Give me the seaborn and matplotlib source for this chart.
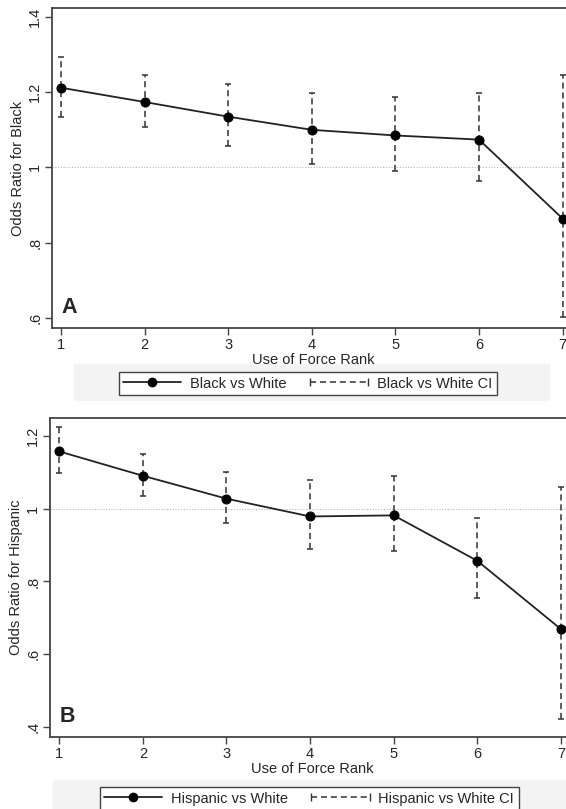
import pandas as pd
import matplotlib.pyplot as plt
import seaborn as sns
from matplotlib.lines import Line2D
from matplotlib.patches import Rectangle
from matplotlib.legend_handler import HandlerLine2D

rank = [1, 2, 3, 4, 5, 6, 7]

black_or = [1.212, 1.174, 1.135, 1.100, 1.085, 1.074, 0.864]
black_lo = [1.135, 1.108, 1.056, 1.009, 0.991, 0.963, 0.601]
black_hi = [1.295, 1.246, 1.223, 1.199, 1.187, 1.199, 1.245]

hisp_or = [1.158, 1.091, 1.028, 0.979, 0.982, 0.857, 0.669]
hisp_lo = [1.098, 1.034, 0.961, 0.890, 0.884, 0.755, 0.421]
hisp_hi = [1.225, 1.151, 1.101, 1.078, 1.091, 0.976, 1.061]

black_ticks = [0.6, 0.8, 1.0, 1.2, 1.4]
black_ticklabels = ['.6', '.8', '1', '1.2', '1.4']
hisp_ticks = [0.4, 0.6, 0.8, 1.0, 1.2]
hisp_ticklabels = ['.4', '.6', '.8', '1', '1.2']

sns.set_style("ticks")
plt.rcParams['font.family'] = ['Liberation Sans', 'DejaVu Sans']

W, H = 566, 809
fig = plt.figure(figsize=(W / 100, H / 100), dpi=100)

LINE_C = '#222222'
ERR_C = '#333333'
SPINE_C = '#444444'
FS = 10.5
DASH = (0, (4, 2.5))


def panel(rect, est, lo, hi, ylim, xlim, ticks, ticklabels, ylabel, letter):
    ax = fig.add_axes(rect)
    df = pd.DataFrame({'rank': rank, 'or': est, 'lo': lo, 'hi': hi})
    ax.axhline(1, color='#b8b8b8', lw=0.8, ls=(0, (1, 1.5)), zorder=1)
    err = ax.errorbar(df['rank'], df['or'],
                      yerr=[df['or'] - df['lo'], df['hi'] - df['or']],
                      fmt='none', ecolor=ERR_C, elinewidth=1.1,
                      capsize=2.3, capthick=1.1, zorder=2)
    for lc in err.lines[2]:
        lc.set_linestyle(DASH)
    sns.lineplot(data=df, x='rank', y='or', ax=ax, color=LINE_C, lw=1.3,
                 marker='o', markersize=6.5, markerfacecolor='black',
                 markeredgecolor='black', zorder=3)
    ax.set_xlim(*xlim)
    ax.set_ylim(*ylim)
    ax.set_xticks(rank)
    ax.set_xticklabels([str(r) for r in rank])
    ax.set_yticks(ticks)
    ax.set_yticklabels(ticklabels, rotation=90, va='center')
    ax.set_xlabel('Use of Force Rank', fontsize=FS, labelpad=1)
    ax.set_ylabel(ylabel, fontsize=FS, labelpad=2)
    for s in ax.spines.values():
        s.set_color(SPINE_C)
        s.set_linewidth(1.3)
    ax.tick_params(length=5, width=1, color=SPINE_C, labelsize=FS, pad=2)
    ax.text(0.018, 0.03, letter, transform=ax.transAxes, fontsize=15.5,
            fontweight='bold', ha='left', va='bottom')
    return ax


ax1 = panel([52 / W, 1 - 328 / H, 523 / W, 320 / H],
            black_or, black_lo, black_hi, (0.573, 1.424), (0.892, 7.148),
            black_ticks, black_ticklabels, 'Odds Ratio for Black', 'A')
ax2 = panel([50 / W, 1 - 737 / H, 525 / W, 319 / H],
            hisp_or, hisp_lo, hisp_hi, (0.372, 1.25), (0.889, 7.169),
            hisp_ticks, hisp_ticklabels, 'Odds Ratio for Hispanic', 'B')

# light legend bands
fig.add_artist(Rectangle((74 / W, 1 - 400 / H), 475 / W, 36 / H,
                         transform=fig.transFigure, color='#f3f3f3', zorder=0))
fig.add_artist(Rectangle((53 / W, 0), 513 / W, 29 / H,
                         transform=fig.transFigure, color='#f3f3f3', zorder=0))


def add_legend(label, center):
    h1 = Line2D([], [], color=LINE_C, lw=1.3, marker='o', markersize=6,
                markerfacecolor='black', markeredgecolor='black')
    h2 = Line2D([], [], color=ERR_C, lw=1.1, ls=DASH,
                marker='|', markersize=6, markeredgecolor=ERR_C)
    leg = fig.legend([h1, h2], [label, label + ' CI'], loc='center',
                     bbox_to_anchor=center, ncol=2, numpoints=1,
                     handler_map={h2: HandlerLine2D(numpoints=2, marker_pad=0)},
                     frameon=True, fancybox=False, edgecolor=SPINE_C,
                     framealpha=1, fontsize=FS, handlelength=4,
                     borderpad=0.3, columnspacing=1.6, handletextpad=0.6)
    leg.get_frame().set_linewidth(1.0)
    leg.set_zorder(5)


add_legend('Black vs White', (307.5 / W, 1 - 383.5 / H))
add_legend('Hispanic vs White', (309 / W, 1 - 798.5 / H))

fig.savefig('out.png', dpi=100)
